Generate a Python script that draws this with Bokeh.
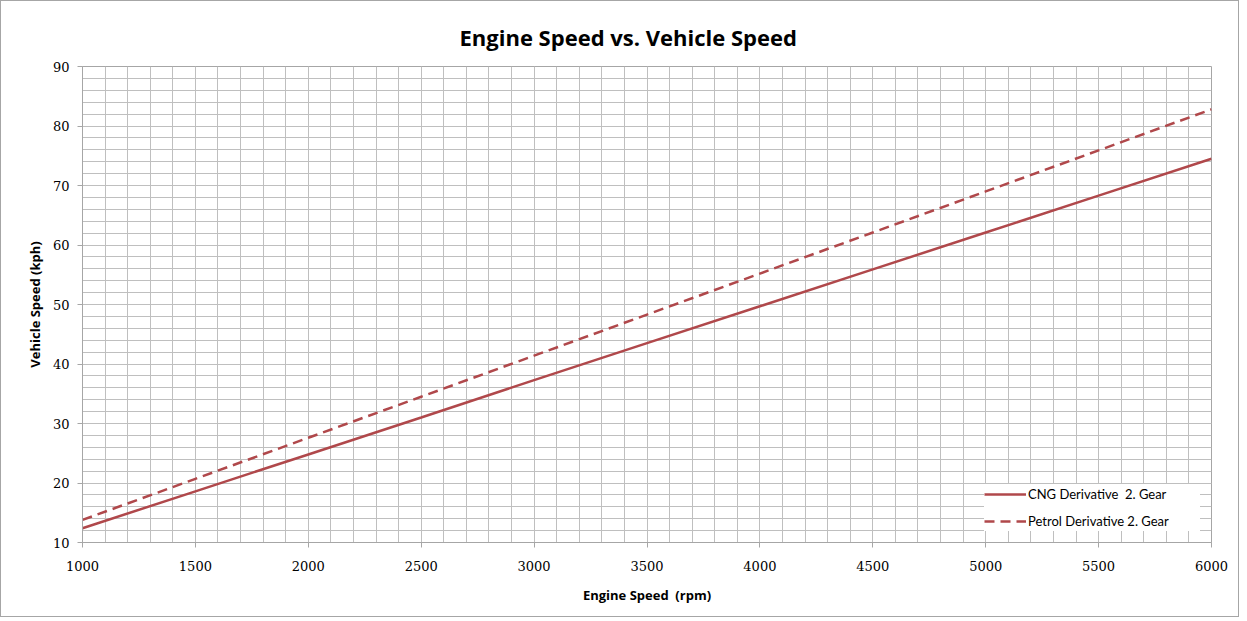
from bokeh.plotting import figure
from bokeh.models import SingleIntervalTicker, Range1d, Legend, LegendItem
from bokeh.embed import file_html
from bokeh.resources import INLINE

engine_rpm = [1000, 1500, 2000, 2500, 3000, 3500, 4000, 4500, 5000, 5500, 6000]
cng_kph = [12.4, 18.6, 24.8, 31.0, 37.3, 43.5, 49.7, 55.9, 62.1, 68.3, 74.5]
petrol_kph = [13.8, 20.7, 27.6, 34.5, 41.4, 48.3, 55.2, 62.1, 69.0, 75.9, 82.8]
title_text = "Engine Speed vs. Vehicle Speed"

LINE_COLOR = "#B0484B"
GRID = "#BFBFBF"

p = figure(width=1239, height=617, output_backend="svg", toolbar_location=None,
           x_range=Range1d(1000, 6000), y_range=Range1d(10, 90),
           min_border_left=81, min_border_right=29, min_border_top=65, min_border_bottom=76)
p.styles = {"border": "1px solid #A6A6A6"}

p.title.text = title_text
p.title.align = "left"
p.title.offset = 377
p.title.text_font = "Open Sans"
p.title.text_font_size = "22px"
p.title.text_font_style = "bold"
p.title.text_color = "#000000"
p.title.standoff = 30

p.xaxis.ticker = SingleIntervalTicker(interval=500, num_minor_ticks=5)
p.yaxis.ticker = SingleIntervalTicker(interval=10, num_minor_ticks=5)
p.xgrid.ticker = p.xaxis.ticker
p.ygrid.ticker = p.yaxis.ticker

for g in (p.xgrid, p.ygrid):
    g.grid_line_color = GRID
    g.grid_line_width = 1
    g.minor_grid_line_color = GRID
    g.minor_grid_line_width = 1

p.outline_line_color = "#A6A6A6"
p.outline_line_width = 1

for ax in (p.xaxis, p.yaxis):
    ax.axis_line_color = "#A6A6A6"
    ax.major_tick_line_color = "#A6A6A6"
    ax.major_tick_out = 5
    ax.major_tick_in = 0
    ax.minor_tick_line_color = None
    ax.major_label_text_font = "DejaVu Serif"
    ax.major_label_text_font_size = "13px"
    ax.major_label_text_color = "#000000"
    ax.axis_label_text_font = "Open Sans"
    ax.axis_label_text_font_size = "13px"
    ax.axis_label_text_font_style = "bold"
    ax.axis_label_text_color = "#000000"

p.xaxis.axis_label = "Engine Speed\u00a0\u00a0(rpm)"
p.yaxis.axis_label = "Vehicle Speed (kph)"
p.xaxis.major_label_standoff = 13
p.yaxis.major_label_standoff = 8
p.xaxis.axis_label_standoff = 12
p.yaxis.axis_label_standoff = 6

r1 = p.line(engine_rpm, cng_kph, line_color=LINE_COLOR, line_width=2.5)
r2 = p.line(engine_rpm, petrol_kph, line_color=LINE_COLOR, line_width=2.5, line_dash="10 6")

legend = Legend(items=[LegendItem(label="CNG Derivative\u00a0\u00a02. Gear", renderers=[r1]),
                       LegendItem(label="Petrol Derivative 2. Gear", renderers=[r2])],
                location=(902, 11), margin=0, padding=10, spacing=7,
                glyph_width=42, glyph_height=20, label_standoff=2, label_width=172,
                border_line_color=None, background_fill_color="white", background_fill_alpha=1,
                label_text_font="Lato", label_text_font_size="13px", label_text_color="#000000")
p.add_layout(legend)

open("out.html", "w").write(file_html(p, INLINE))
